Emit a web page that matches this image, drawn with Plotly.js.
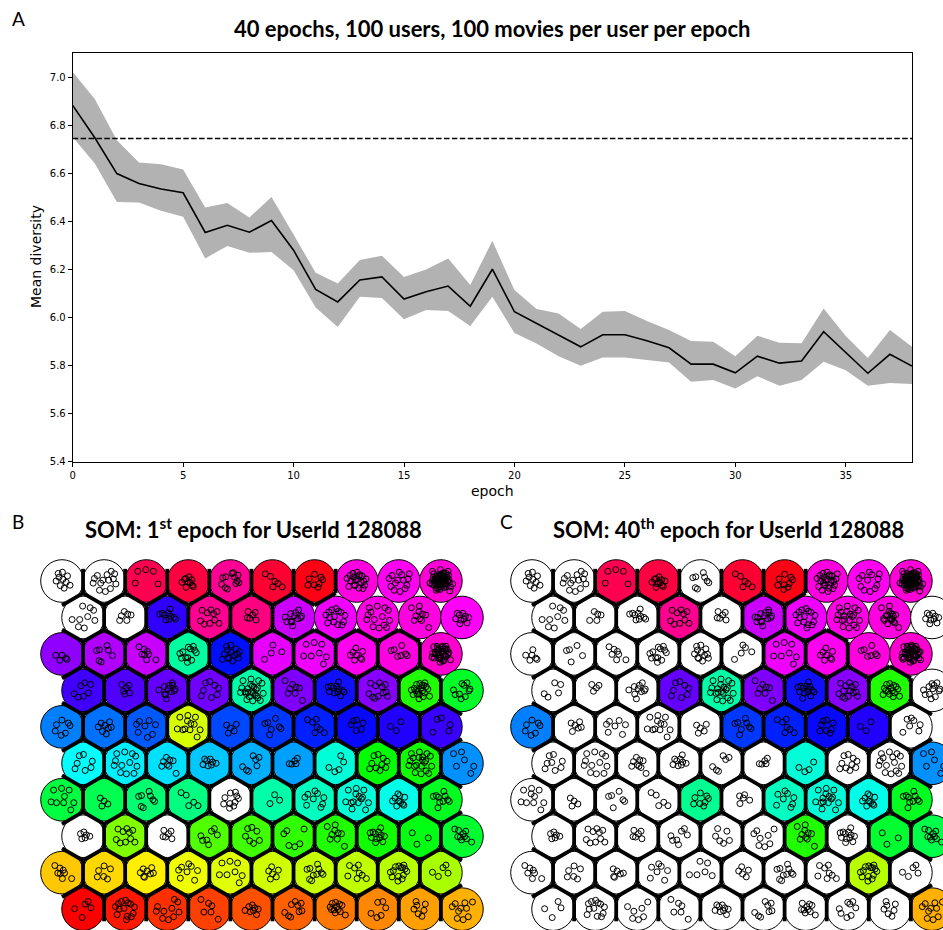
<!DOCTYPE html>
<html><head><meta charset="utf-8">
<script src="https://cdn.plot.ly/plotly-3.0.1.min.js"></script>
<style>html,body{margin:0;padding:0;background:#fff}#chart{width:943px;height:930px}</style>
</head><body><div id="chart"></div>
<script>
// ---------- Panel A data ----------
const epochs = [0,1,2,3,4,5,6,7,8,9,10,11,12,13,14,15,16,17,18,19,20,21,22,23,24,25,26,27,28,29,30,31,32,33,34,35,36,37,38];
const meanDiversity = [6.883,6.748,6.599,6.558,6.535,6.519,6.354,6.384,6.355,6.404,6.280,6.117,6.065,6.156,6.169,6.077,6.107,6.131,6.047,6.201,6.024,5.975,5.924,5.878,5.928,5.928,5.903,5.874,5.806,5.806,5.770,5.839,5.810,5.819,5.941,5.853,5.768,5.847,5.798];
const upperBand = [7.022,6.909,6.738,6.645,6.638,6.616,6.458,6.477,6.416,6.502,6.345,6.186,6.142,6.239,6.257,6.169,6.200,6.246,6.135,6.319,6.114,6.035,6.017,5.952,6.024,6.027,5.986,5.948,5.902,5.899,5.839,5.924,5.895,5.893,6.038,5.923,5.832,5.948,5.878];
const lowerBand = [6.751,6.641,6.481,6.479,6.444,6.419,6.246,6.298,6.269,6.273,6.197,6.042,5.961,6.086,6.081,5.993,6.031,6.027,5.965,6.086,5.936,5.892,5.839,5.799,5.834,5.834,5.823,5.813,5.733,5.740,5.705,5.756,5.716,5.740,5.816,5.781,5.716,5.728,5.723];
const baselineDiversity = 6.745;
const xTicks = [0,5,10,15,20,25,30,35];
const yTicks = [5.4,5.6,5.8,6.0,6.2,6.4,6.6,6.8,7.0];

// ---------- SOM node colours (10 rows x 10 columns) ----------
const W = '#ffffff';
const colorsB = [
 [W,W,'#ff0050','#ff0040','#ff0095','#ff0032','#ff0014','#ff00e0','#ff00f2','#ff00d8'],
 [W,W,'#3000ff','#ff0090','#ff0080','#cc00ff','#f000ff','#ff00e8','#ff00e0','#ff00f8'],
 ['#9000ff','#b000ff','#c800ff','#00ffa0','#0010ff','#e800ff','#f000ff','#ff00f0','#ff00e0','#ff00d0'],
 ['#4000ff','#5000ff','#6400ff','#7000ff','#00ffa8','#8000ff','#1010ff','#8800ff','#20ff00','#00ff28'],
 ['#0080ff','#0070ff','#0058ff','#d8ff00','#0048ff','#0038ff','#0020ff','#0808ff','#2000ff','#3800ff'],
 ['#00ffff','#00f0ff','#00e0ff','#00c8ff','#00b0ff','#00a0ff','#00ffd8','#00ff00','#10ff00','#0090ff'],
 ['#00ff40','#00ff50','#00ff70','#00ff80',W,'#00ffa8','#00ffc0','#00ffd8','#00ffe8','#00ff20'],
 [W,'#80ff00',W,'#50ff00','#40ff00','#30ff00','#20ff00','#10ff00','#00ff10','#00ff30'],
 ['#ffc800','#ffd800','#fff000','#f0ff00','#e0ff00','#d0ff00','#c8ff00','#c0ff00','#b8ff00','#a8ff00'],
 ['#ff0000','#ff1800','#ff3000','#ff4000','#ff5000','#ff6000','#ff7800','#ff8800','#ffa000','#ffb000']
];
const colorsC = [
 [W,W,'#ff0050','#ff0040',W,'#ff0032','#ff0014','#ff00e0','#ff00f2','#ff00d8'],
 [W,W,W,'#ff0090',W,'#cc00ff','#f000ff','#ff00e8','#ff00e0',W],
 [W,W,W,W,W,W,'#f000ff','#ff00f0','#ff00e0','#ff00d0'],
 [W,W,W,'#6400ff','#00ffa8','#8000ff','#1010ff','#8800ff','#20ff00',W],
 ['#0080ff',W,W,W,W,'#0038ff','#0020ff','#0808ff','#2000ff',W],
 [W,W,W,W,W,W,'#00ffd8',W,W,'#0090ff'],
 [W,W,W,W,'#00ff90',W,'#00ffc0','#00ffd8','#00ffe8','#00ff20'],
 [W,W,W,W,W,W,'#20ff00',W,'#00ff30','#00ff48'],
 [W,W,W,W,W,W,W,W,'#b8ff00',W],
 [W,W,W,W,W,W,W,W,W,'#ffb000']
];
// hits (number of mapped movies) per node
const hitsB = [
 [10,14,5,10,12,6,8,20,14,60],
 [9,6,10,10,6,12,14,14,10,10],
 [5,7,8,12,14,4,8,8,7,35],
 [7,6,12,8,25,8,12,12,20,10],
 [7,8,8,12,5,7,7,6,3,5],
 [7,12,8,8,7,5,5,10,20,6],
 [9,4,8,5,10,3,9,14,10,10],
 [6,10,6,7,7,6,9,12,3,10],
 [8,6,8,8,8,6,10,8,14,5],
 [5,14,10,6,8,9,12,6,7,10]
];
const hitsC = [
 [10,14,5,12,8,6,9,25,12,70],
 [9,5,10,10,6,14,15,20,18,10],
 [6,5,7,12,12,5,8,8,7,40],
 [5,4,10,8,20,8,14,14,15,12],
 [7,6,7,12,5,8,7,8,3,7],
 [8,12,9,9,6,5,4,10,15,6],
 [10,4,6,5,8,5,8,15,10,10],
 [6,10,6,7,6,8,10,12,3,10],
 [7,6,6,7,6,5,10,8,14,5],
 [4,12,7,6,9,8,10,8,7,10]
];
// nodes drawn without hexagon borders (round look)
const roundB = [[0,7],[0,8],[0,9],[1,5],[1,6],[1,7],[1,8],[1,9],[2,9],[3,9]];
const roundC = [[0,7],[0,8],[0,9],[1,6],[1,7],[1,8],[1,9],[2,8],[2,9],[3,9]];
// scatter offsets of mapped points inside a node (node spacing = 1)
const jitter = [
 [0.02,0.04],[-0.07,0.09],[0.10,-0.03],[-0.04,-0.11],[0.13,0.12],[-0.14,0.00],[0.05,-0.17],[-0.09,0.18],[0.19,-0.10],[0.01,0.21],
 [-0.19,-0.13],[0.22,0.05],[-0.03,0.02],[0.07,0.15],[-0.16,0.13],[0.15,-0.18],[-0.23,0.06],[0.03,-0.25],[0.25,0.17],[-0.11,-0.22],
 [0.11,0.02],[-0.08,-0.05],[0.17,0.23],[-0.26,-0.05],[0.28,-0.07],[-0.01,0.27],[-0.20,0.23],[0.21,-0.24],[0.06,0.08],[-0.13,-0.07],
 [0.04,-0.07],[-0.02,0.14],[0.14,0.06],[-0.09,0.04],[0.00,-0.03],[0.09,-0.10],[-0.05,-0.15],[0.12,-0.13],[-0.15,-0.03],[0.02,0.10],
 [0.08,0.03],[-0.06,0.06],[0.05,-0.04],[-0.03,-0.06],[0.16,0.00],[-0.11,0.10],[0.07,0.20],[-0.18,0.08],[0.20,-0.04],[-0.07,-0.19],
 [0.10,0.09],[-0.12,-0.16],[0.18,0.14],[-0.21,-0.08],[0.04,0.18],[0.13,-0.06],[-0.05,0.11],[0.01,-0.14],[-0.17,0.17],[0.23,-0.14],
 [0.06,-0.01],[-0.10,-0.01],[0.03,0.06],[-0.04,-0.02],[0.09,0.12],[-0.08,0.14],[0.11,-0.06],[-0.01,-0.09],[0.15,0.09],[-0.13,0.05],
 [0.00,0.16],[0.08,-0.15],[-0.16,-0.10],[0.19,0.03],[-0.02,-0.20],[0.12,0.18],[-0.20,0.01],[0.05,0.12],[-0.06,-0.09],[0.17,-0.01]
];

// ---------- geometry helpers ----------
const S3 = Math.sqrt(3);
const NODE_R = 0.506;           // node disc radius (node spacing = 1)
const HEX_R = 1 / S3;           // hexagon circumradius
function center(r, c) { return [c + 0.5 * (r % 2), -r * S3 / 2]; }
function vertex(cx, cy, angDeg) { const a = angDeg * Math.PI / 180; return [cx + HEX_R * Math.cos(a), cy + HEX_R * Math.sin(a)]; }

function buildSom(colors, hits, roundList, xa, ya, shapes, traces) {
  const nr = colors.length, nc = colors[0].length;
  const isRound = {};
  roundList.forEach(p => { isRound[p[0] + '_' + p[1]] = true; });
  for (let r = 0; r < nr; r++) for (let c = 0; c < nc; c++) {
    const [x, y] = center(r, c);
    shapes.push({type:'circle', xref:xa, yref:ya, layer:'below',
      x0:x-NODE_R, x1:x+NODE_R, y0:y-NODE_R, y1:y+NODE_R,
      fillcolor:colors[r][c], line:{color:'#000', width:1}});
  }
  const ex = [], ey = [];
  function addEdge(r, c, r2, c2, dirDeg) {
    if (r2 >= nr || c2 < 0 || c2 >= nc) return;
    if (isRound[r+'_'+c] && isRound[r2+'_'+c2]) return;
    const [x, y] = center(r, c);
    const a = vertex(x, y, dirDeg - 30), b = vertex(x, y, dirDeg + 30);
    ex.push(a[0], b[0], null); ey.push(a[1], b[1], null);
  }
  for (let r = 0; r < nr; r++) for (let c = 0; c < nc; c++) {
    addEdge(r, c, r, c + 1, 0);
    if (r % 2 === 0) { addEdge(r, c, r + 1, c, -60); addEdge(r, c, r + 1, c - 1, -120); }
    else { addEdge(r, c, r + 1, c + 1, -60); addEdge(r, c, r + 1, c, -120); }
  }
  traces.push({type:'scatter', mode:'lines', x:ex, y:ey, xaxis:xa, yaxis:ya,
    line:{color:'#000', width:3.8}, hoverinfo:'skip', showlegend:false, connectgaps:false});
  const px = [], py = [];
  for (let r = 0; r < nr; r++) for (let c = 0; c < nc; c++) {
    const [x, y] = center(r, c);
    const start = (r * 17 + c * 11) % jitter.length;
    for (let k = 0; k < hits[r][c]; k++) {
      const j = jitter[(start + k) % jitter.length];
      px.push(x + j[0]); py.push(y + j[1]);
    }
  }
  traces.push({type:'scatter', mode:'markers', x:px, y:py, xaxis:xa, yaxis:ya,
    marker:{symbol:'circle-open', size:6, color:'#000', line:{width:1, color:'#000'}},
    hoverinfo:'skip', showlegend:false, cliponaxis:true});
}

// ---------- traces ----------
const traces = [
  {type:'scatter', mode:'lines', x:epochs, y:lowerBand, line:{width:0, color:'#b2b2b2'}, hoverinfo:'skip', showlegend:false},
  {type:'scatter', mode:'lines', x:epochs, y:upperBand, fill:'tonexty', fillcolor:'#b2b2b2', line:{width:0, color:'#b2b2b2'}, hoverinfo:'skip', showlegend:false},
  {type:'scatter', mode:'lines', x:epochs, y:meanDiversity, line:{width:1.6, color:'#000'}, showlegend:false}
];
const shapes = [
  {type:'line', xref:'x domain', yref:'y', x0:0, x1:1, y0:baselineDiversity, y1:baselineDiversity,
   line:{color:'#000', width:1.5, dash:'5.5px,2.4px'}, layer:'above'}
];
buildSom(colorsB, hitsB, roundB, 'x2', 'y2', shapes, traces);
buildSom(colorsC, hitsC, roundC, 'x3', 'y3', shapes, traces);

// ---------- layout ----------
const FW = 943, FH = 930;
const px2x = p => p / FW, px2y = p => (FH - p) / FH;
const SP = 42.1; // pixels per node spacing
const somY = {domain:[px2y(930), px2y(555)], range:[(581-930)/SP, (581-555)/SP], visible:false, fixedrange:true};
const tickFont = {family:'DejaVu Sans, sans-serif', size:10, color:'#000'};
const titleFont = 'Lato, Open Sans, sans-serif';
function label(text, xp, yp, font, extra) {
  return Object.assign({text:text, x:px2x(xp), y:px2y(yp), xref:'paper', yref:'paper', xanchor:'center', yanchor:'middle',
    showarrow:false, font:font}, extra || {});
}

const layout = {
  width:FW, height:FH, margin:{l:0, r:0, t:0, b:0}, paper_bgcolor:'#fff', plot_bgcolor:'rgba(0,0,0,0)',
  showlegend:false,
  xaxis:{domain:[px2x(72.7), px2x(912)], range:[0,38], tickvals:xTicks, ticks:'outside', ticklen:4, tickwidth:1, tickcolor:'#000',
         showline:true, mirror:true, linecolor:'#000', linewidth:1, showgrid:false, zeroline:false, tickfont:tickFont, fixedrange:true, automargin:false},
  yaxis:{domain:[px2y(461.7), px2y(52.7)], range:[5.4,7.102], tickvals:yTicks, tickformat:'.1f', ticks:'outside', ticklen:4, tickwidth:1, tickcolor:'#000',
         showline:true, mirror:true, linecolor:'#000', linewidth:1, showgrid:false, zeroline:false, tickfont:tickFont, fixedrange:true, automargin:false},
  xaxis2:{domain:[px2x(38), px2x(488)], range:[(38-62)/SP, (488-62)/SP], visible:false, fixedrange:true},
  yaxis2:Object.assign({anchor:'x2'}, somY),
  xaxis3:{domain:[px2x(508), 1], range:[(508-532)/SP, (943-532)/SP], visible:false, fixedrange:true, anchor:'y3'},
  yaxis3:Object.assign({anchor:'x3'}, somY),
  shapes:shapes,
  annotations:[
    label('A', 18, 18, {family:titleFont, size:19, color:'#000'}),
    label('<b>40 epochs, 100 users, 100 movies per user per epoch</b>', 492, 28, {family:titleFont, size:22, color:'#000'}),
    label('Mean diversity', 36, 257, {family:'DejaVu Sans, sans-serif', size:14, color:'#000'}, {textangle:-90}),
    label('epoch', 492, 491, {family:'DejaVu Sans, sans-serif', size:14, color:'#000'}),
    label('B', 17.5, 521, {family:titleFont, size:19, color:'#000'}),
    label('C', 506, 521, {family:titleFont, size:19, color:'#000'}),
    label('<b>SOM: 1<sup>st</sup> epoch for UserId 128088</b>', 253, 528, {family:titleFont, size:22, color:'#000'}),
    label('<b>SOM: 40<sup>th</sup> epoch for UserId 128088</b>', 728, 528, {family:titleFont, size:22, color:'#000'})
  ]
};
Plotly.newPlot('chart', traces, layout, {staticPlot:true, displayModeBar:false});
</script>
</body></html>
